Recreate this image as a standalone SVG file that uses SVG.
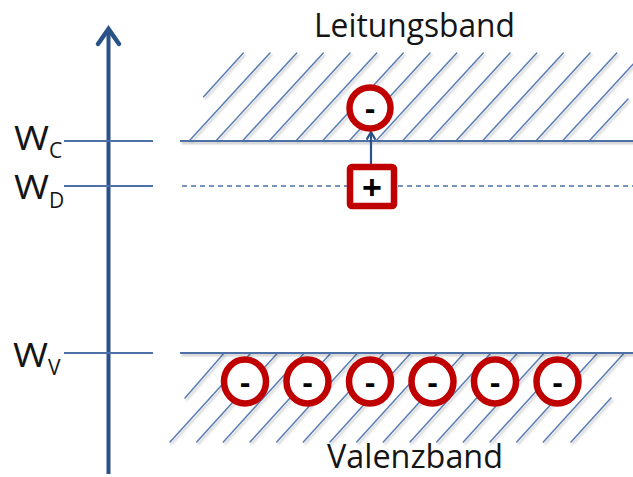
<svg xmlns="http://www.w3.org/2000/svg" width="633" height="477" viewBox="0 0 633 477">
<style>
.lbl{font-family:"Open Sans","Liberation Sans",sans-serif;fill:#151515;}
.hatch line{stroke:#5a7db3;stroke-width:1.5;stroke-linecap:round;}
.lvl{stroke:#4d71a6;stroke-width:2;}
.band{stroke:#4d71a6;stroke-width:2.2;}
.el{fill:#fff;stroke:#c00000;stroke-width:6.5;}
.sign{font-family:"Liberation Sans",Arial,sans-serif;font-weight:bold;fill:#000;text-anchor:middle;}
</style>
<defs>
<filter id="sh" filterUnits="userSpaceOnUse" x="0" y="0" width="633" height="477">
<feDropShadow dx="1.5" dy="2" stdDeviation="1" flood-color="#000" flood-opacity="0.25"/>
</filter>
<marker id="ah" viewBox="0 0 10 10" refX="8" refY="5" markerWidth="5" markerHeight="5" orient="auto">
<path d="M1,1 L8,5 L1,9" fill="none" stroke="#2a5289" stroke-width="2"/>
</marker>
</defs>

<g id="axis">
<line x1="108.5" y1="29" x2="108.5" y2="474" stroke="#2a5289" stroke-width="4"/>
<polyline points="98,44 108.5,29 119,44" fill="none" stroke="#2a5289" stroke-width="4.5" stroke-linecap="round"/>
</g>

<g id="conduction-band">
<g class="hatch" filter="url(#sh)">
<line x1="203.6" y1="96.7" x2="243.3" y2="53"/>
<line x1="190" y1="140" x2="270" y2="53"/>
<line x1="216.7" y1="140" x2="296.7" y2="53"/>
<line x1="243.3" y1="140" x2="323.3" y2="53"/>
<line x1="270" y1="140" x2="350" y2="53"/>
<line x1="296.7" y1="140" x2="376.7" y2="53"/>
<line x1="323.3" y1="140" x2="403.3" y2="53"/>
<line x1="350" y1="140" x2="430" y2="53"/>
<line x1="376.7" y1="140" x2="456.7" y2="53"/>
<line x1="403.3" y1="140" x2="483.3" y2="53"/>
<line x1="430" y1="140" x2="510" y2="53"/>
<line x1="456.7" y1="140" x2="536.7" y2="53"/>
<line x1="483.3" y1="140" x2="563.3" y2="53"/>
<line x1="510" y1="140" x2="590" y2="53"/>
<line x1="536.7" y1="140" x2="616.7" y2="53"/>
<line x1="563.3" y1="140" x2="633" y2="64.3"/>
<line x1="590" y1="140" x2="628" y2="99"/>
</g>
<line class="band" x1="180" y1="141" x2="633" y2="141" filter="url(#sh)"/>
<text class="lbl" x="314" y="36.5" font-size="32" textLength="201" lengthAdjust="spacingAndGlyphs">Leitungsband</text>
</g>

<g id="valence-band">
<g class="hatch" filter="url(#sh)">
<line x1="223.3" y1="354" x2="185" y2="398"/>
<line x1="250" y1="354" x2="170" y2="442"/>
<line x1="276.7" y1="354" x2="196.7" y2="442"/>
<line x1="303.3" y1="354" x2="223.3" y2="442"/>
<line x1="330" y1="354" x2="250" y2="442"/>
<line x1="356.7" y1="354" x2="276.7" y2="442"/>
<line x1="383.3" y1="354" x2="303.3" y2="442"/>
<line x1="410" y1="354" x2="330" y2="442"/>
<line x1="436.7" y1="354" x2="356.7" y2="442"/>
<line x1="463.3" y1="354" x2="383.3" y2="442"/>
<line x1="490" y1="354" x2="410" y2="442"/>
<line x1="516.7" y1="354" x2="436.7" y2="442"/>
<line x1="543.3" y1="354" x2="463.3" y2="442"/>
<line x1="570" y1="354" x2="490" y2="442"/>
<line x1="596.7" y1="354" x2="516.7" y2="442"/>
<line x1="623.3" y1="354" x2="543.3" y2="442"/>
<line x1="611" y1="398" x2="571" y2="442"/>
</g>
<line class="band" x1="180" y1="353" x2="633" y2="353" filter="url(#sh)"/>
<text class="lbl" x="327" y="468" font-size="32" textLength="176" lengthAdjust="spacingAndGlyphs">Valenzband</text>
</g>

<g id="level-WC">
<line class="lvl" x1="64" y1="141" x2="153" y2="141"/>
<text class="lbl" font-size="33"><tspan x="14" y="150" textLength="35" lengthAdjust="spacingAndGlyphs">W</tspan><tspan x="49" y="158" font-size="21">C</tspan></text>
</g>

<g id="level-WD">
<line class="lvl" x1="64" y1="186" x2="153" y2="186"/>
<line x1="182" y1="186" x2="633" y2="186" stroke="#4d71a6" stroke-width="1.6" stroke-dasharray="5,4"/>
<text class="lbl" font-size="33"><tspan x="14" y="199" textLength="35" lengthAdjust="spacingAndGlyphs">W</tspan><tspan x="49" y="207.5" font-size="21">D</tspan></text>
</g>

<g id="level-WV">
<line class="lvl" x1="64" y1="353" x2="153" y2="353"/>
<text class="lbl" font-size="33"><tspan x="13" y="366.5" textLength="35" lengthAdjust="spacingAndGlyphs">W</tspan><tspan x="48" y="375" font-size="21">V</tspan></text>
</g>

<g id="connectors">
<line x1="371" y1="164" x2="371" y2="132" stroke="#2a5289" stroke-width="2.2" marker-end="url(#ah)"/>
</g>

<g id="donor">
<rect class="el" x="350" y="167" width="44" height="39" rx="2"/>
<text class="sign" x="372" y="199" font-size="34">+</text>
</g>

<g id="free-electron">
<circle class="el" cx="370" cy="108" r="20.5"/>
<text class="sign" x="370" y="119" font-size="32">-</text>
</g>

<g id="valence-electrons">
<g id="e1"><ellipse class="el" cx="245" cy="381.5" rx="21" ry="22"/><text class="sign" x="245" y="392.5" font-size="32">-</text></g>
<g id="e2"><ellipse class="el" cx="307.5" cy="381.5" rx="21" ry="22"/><text class="sign" x="307.5" y="392.5" font-size="32">-</text></g>
<g id="e3"><ellipse class="el" cx="370" cy="381.5" rx="21" ry="22"/><text class="sign" x="370" y="392.5" font-size="32">-</text></g>
<g id="e4"><ellipse class="el" cx="432.5" cy="381.5" rx="21" ry="22"/><text class="sign" x="432.5" y="392.5" font-size="32">-</text></g>
<g id="e5"><ellipse class="el" cx="495" cy="381.5" rx="21" ry="22"/><text class="sign" x="495" y="392.5" font-size="32">-</text></g>
<g id="e6"><ellipse class="el" cx="557.5" cy="381.5" rx="21" ry="22"/><text class="sign" x="557.5" y="392.5" font-size="32">-</text></g>
</g>
</svg>
